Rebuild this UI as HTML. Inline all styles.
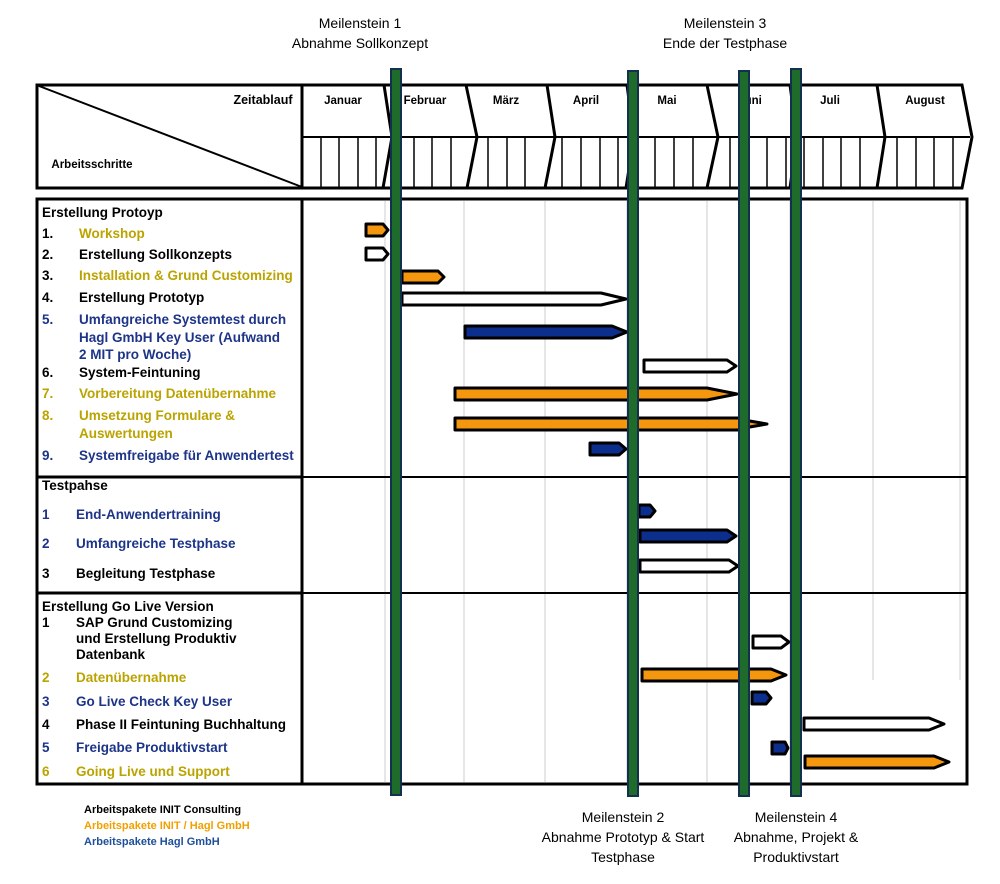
<!DOCTYPE html>
<html><head><meta charset="utf-8"><style>
body{margin:0;background:#fff}
svg{display:block}
.t{font-family:"Liberation Sans",Arial,sans-serif;font-weight:bold;font-size:13.5px}
.m{font-family:"Liberation Sans",Arial,sans-serif;font-size:14px;text-anchor:middle}
.h{font-family:"Liberation Sans",Arial,sans-serif;font-weight:bold;font-size:11.5px;text-anchor:middle}
.y{fill:#bba300}.b{fill:#1d3488}.k{fill:#000}
.or{fill:#f5960f;stroke:#000;stroke-width:3;stroke-linejoin:round}
.bl{fill:#0c2e8c;stroke:#000;stroke-width:3;stroke-linejoin:round}
.wh{fill:#fff;stroke:#000;stroke-width:3;stroke-linejoin:round}
</style></head><body>
<svg width="1000" height="884" viewBox="0 0 1000 884" xmlns="http://www.w3.org/2000/svg">
<text class="m" x="360" y="28">Meilenstein 1</text>
<text class="m" x="360" y="48">Abnahme Sollkonzept</text>
<text class="m" x="725" y="28">Meilenstein 3</text>
<text class="m" x="725" y="48">Ende der Testphase</text>

<rect x="37" y="85" width="265" height="103" fill="#fff" stroke="#000" stroke-width="3"/>
<line x1="39" y1="86" x2="302" y2="187" stroke="#000" stroke-width="2"/>
<text class="h" x="263" y="104" style="font-size:12.5px">Zeitablauf</text>
<text class="h" x="92" y="168">Arbeitsschritte</text>
<path d="M302 85 H962 L972 137 L962 188 H302 Z" fill="#fff" stroke="#000" stroke-width="3"/>
<line x1="302" y1="137" x2="970" y2="137" stroke="#000" stroke-width="2"/>
<path stroke="#000" stroke-width="1.5" d="M321 137V188M339 137V188M358 137V188M376 137V188M414 137V188M432 137V188M451 137V188M488 137V188M507 137V188M525 137V188M562 137V188M581 137V188M600 137V188M618 137V188M655 137V188M674 137V188M693 137V188M730 137V188M748 137V188M767 137V188M786 137V188M804 137V188M823 137V188M841 137V188M860 137V188M897 137V188M916 137V188M934 137V188M953 137V188"/>
<path fill="none" stroke="#000" stroke-width="3" d="M384 85L392 137L383 188M466 85L477 137L467 188M547 85L555 137L545 188M627 85L634 137L626 188M707 85L718 137L707 188M790 85L797 137L790 188M877 85L885 137L877 188"/>
<g class="h">
<text x="343" y="104">Januar</text><text x="425" y="104">Februar</text><text x="506" y="104">März</text><text x="586" y="104">April</text><text x="667" y="104">Mai</text><text x="750" y="104">Juni</text><text x="830" y="104">Juli</text><text x="925" y="104">August</text>
</g>

<rect x="37" y="199" width="930" height="585" fill="#fff" stroke="#000" stroke-width="3"/>
<g stroke="#ddd" stroke-width="1.5">
<line x1="385" y1="201" x2="385" y2="782"/><line x1="464" y1="201" x2="464" y2="782"/><line x1="545" y1="201" x2="545" y2="782"/><line x1="627" y1="201" x2="627" y2="782"/><line x1="707" y1="201" x2="707" y2="782"/><line x1="790" y1="201" x2="790" y2="782"/><line x1="873" y1="201" x2="873" y2="680"/><line x1="960" y1="201" x2="960" y2="680"/>
</g>
<line x1="37" y1="477" x2="967" y2="477" stroke="#000" stroke-width="2"/>
<line x1="37" y1="593" x2="967" y2="593" stroke="#000" stroke-width="2"/>
<line x1="302" y1="199" x2="302" y2="784" stroke="#000" stroke-width="3"/>
<line x1="37" y1="477" x2="302" y2="477" stroke="#000" stroke-width="3"/>
<line x1="37" y1="593" x2="302" y2="593" stroke="#000" stroke-width="3"/>

<g class="t">
<text class="k" x="42" y="217">Erstellung Protoyp</text>
<text class="k" x="42" y="238">1.</text><text class="y" x="79" y="238">Workshop</text>
<text class="k" x="42" y="259">2.</text><text class="k" x="79" y="259">Erstellung Sollkonzepts</text>
<text class="k" x="42" y="280">3.</text><text class="y" x="79" y="280">Installation &amp; Grund Customizing</text>
<text class="k" x="42" y="302">4.</text><text class="k" x="79" y="302">Erstellung Prototyp</text>
<text class="b" x="42" y="324">5.</text><text class="b" x="79" y="324">Umfangreiche Systemtest durch</text>
<text class="b" x="79" y="342">Hagl GmbH Key User (Aufwand</text>
<text class="b" x="79" y="359">2 MIT pro Woche)</text>
<text class="k" x="42" y="377">6.</text><text class="k" x="79" y="377">System-Feintuning</text>
<text class="y" x="42" y="398">7.</text><text class="y" x="79" y="398">Vorbereitung Datenübernahme</text>
<text class="y" x="42" y="420">8.</text><text class="y" x="79" y="420">Umsetzung Formulare &amp;</text>
<text class="y" x="79" y="438">Auswertungen</text>
<text class="b" x="42" y="460">9.</text><text class="b" x="79" y="460">Systemfreigabe für Anwendertest</text>
<text class="k" x="42" y="490">Testpahse</text>
<text class="b" x="42" y="519">1</text><text class="b" x="76" y="519">End-Anwendertraining</text>
<text class="b" x="42" y="548">2</text><text class="b" x="76" y="548">Umfangreiche Testphase</text>
<text class="k" x="42" y="578">3</text><text class="k" x="76" y="578">Begleitung Testphase</text>
<text class="k" x="42" y="611">Erstellung Go Live Version</text>
<text class="k" x="42" y="627">1</text><text class="k" x="76" y="627">SAP Grund Customizing</text>
<text class="k" x="76" y="643">und Erstellung Produktiv</text>
<text class="k" x="76" y="659">Datenbank</text>
<text class="y" x="42" y="682">2</text><text class="y" x="76" y="682">Datenübernahme</text>
<text class="b" x="42" y="706">3</text><text class="b" x="76" y="706">Go Live Check Key User</text>
<text class="k" x="42" y="729">4</text><text class="k" x="76" y="729">Phase II Feintuning Buchhaltung</text>
<text class="b" x="42" y="752">5</text><text class="b" x="76" y="752">Freigabe Produktivstart</text>
<text class="y" x="42" y="776">6</text><text class="y" x="76" y="776">Going Live und Support</text>
</g>

<polygon class="or" points="366,224 383,224 388,230 383,236 366,236"/>
<polygon class="wh" points="366,248 383,248 388,254 383,260 366,260"/>
<polygon class="or" points="402,271 438,271 444,277 438,283 402,283"/>
<polygon class="wh" points="402,293 601,293 626,299 601,305 402,305"/>
<polygon class="bl" points="465,326 612,326 627,332 612,338 465,338"/>
<polygon class="wh" points="644,360 727,360 736,366 727,372 644,372"/>
<polygon class="or" points="455,388 707,388 737,394 707,400 455,400"/>
<polygon class="or" points="455,418 738,418 744,420 767,424 744,428 738,430 455,430"/>
<polygon class="bl" points="590,443 619,443 626,449 619,455 590,455"/>
<polygon class="bl" points="639,505 650,505 655,511 650,517 639,517"/>
<polygon class="bl" points="640,530 727,530 736,536 727,542 640,542"/>
<polygon class="wh" points="640,560 729,560 738,566 729,572 640,572"/>
<polygon class="wh" points="753,636 781,636 789,642 781,648 753,648"/>
<polygon class="or" points="642,669 771,669 786,675 771,681 642,681"/>
<polygon class="bl" points="752,692 766,692 771,698 766,704 752,704"/>
<polygon class="wh" points="804,718 929,718 944,724 929,730 804,730"/>
<polygon class="bl" points="772,742 785,742 788,748 785,754 772,754"/>
<polygon class="or" points="805,756 934,756 949,762 934,768 805,768"/>

<g fill="#1e6b2c" stroke="#14304f" stroke-width="2">
<rect x="391" y="69" width="10" height="726"/>
<rect x="628" y="71" width="10" height="725"/>
<rect x="739" y="71" width="10" height="725"/>
<rect x="791" y="69" width="10" height="727"/>
</g>

<text class="m" x="623" y="822">Meilenstein 2</text>
<text class="m" x="623" y="842">Abnahme Prototyp &amp; Start</text>
<text class="m" x="623" y="862">Testphase</text>
<text class="m" x="796" y="822">Meilenstein 4</text>
<text class="m" x="796" y="842">Abnahme, Projekt &amp;</text>
<text class="m" x="796" y="862">Produktivstart</text>

<g class="h" style="text-anchor:start;font-size:11px">
<text x="84" y="813" fill="#000">Arbeitspakete INIT Consulting</text>
<text x="84" y="829" fill="#f0a000">Arbeitspakete INIT / Hagl GmbH</text>
<text x="84" y="845" fill="#1d4f9a">Arbeitspakete  Hagl GmbH</text>
</g>
</svg>
</body></html>
